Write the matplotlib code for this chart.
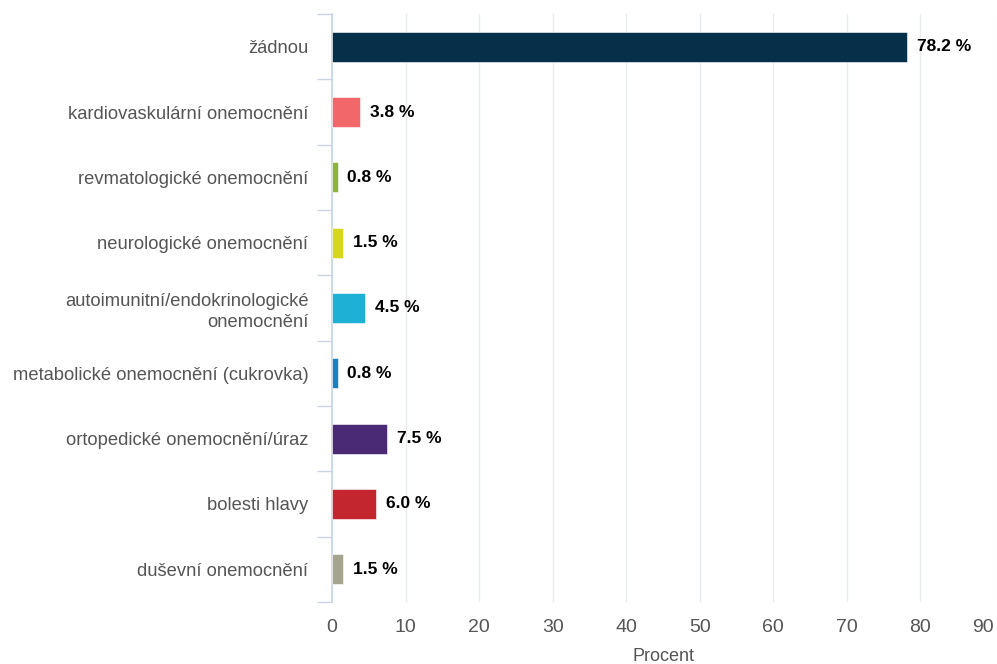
import numpy as np
import matplotlib.pyplot as plt

# Data
categories = [
    "žádnou",
    "kardiovaskulární onemocnění",
    "revmatologické onemocnění",
    "neurologické onemocnění",
    "autoimunitní/endokrinologické\nonemocnění",
    "metabolické onemocnění (cukrovka)",
    "ortopedické onemocnění/úraz",
    "bolesti hlavy",
    "duševní onemocnění",
]
values = [78.2, 3.8, 0.8, 1.5, 4.5, 0.8, 7.5, 6.0, 1.5]
colors = ["#06304a", "#f2686a", "#8cb33c", "#d6d61c", "#1fb1d5",
          "#1b7fc0", "#4a2a74", "#c4262f", "#a4a48f"]
xticks = [0, 10, 20, 30, 40, 50, 60, 70, 80, 90]

plt.rcParams['font.family'] = ['Liberation Sans', 'DejaVu Sans']

fig = plt.figure(figsize=(9.97, 6.64), dpi=100)
ax = fig.add_axes([0.333, 0.0934, 0.664, 0.8855])

y = np.arange(len(categories))
ax.barh(y, values, height=0.46, color=colors, edgecolor='white', linewidth=0.4, zorder=3)

for yi, v in zip(y, values):
    ax.text(v + 1.3, yi, f"{v:.1f} %", va='center', ha='left',
            fontsize=12.5, fontweight='bold', color='black', zorder=4)

ax.set_xlim(0, 90)
ax.set_ylim(len(categories) - 0.5, -0.5)
ax.set_xticks(xticks)
ax.set_yticks(y)
ax.set_yticklabels(categories, fontsize=13.2, color='#555555', linespacing=1.3)
ax.tick_params(axis='x', length=0, labelsize=14, colors='#555555', pad=12)
ax.tick_params(axis='y', which='major', length=0, pad=17)

# keep the last x label inside the figure
ax.get_xticklabels()[-1].set_horizontalalignment('right')

# boundary ticks between categories on the left axis
ax.set_yticks(np.arange(-0.5, len(categories)), minor=True)
ax.tick_params(axis='y', which='minor', length=11, width=1, color='#c9d5e4')

ax.grid(axis='x', color='#e6ebf1', linewidth=1, zorder=0)
for s in ['top', 'right', 'bottom']:
    ax.spines[s].set_visible(False)
ax.spines['left'].set_color('#c9d5e4')
ax.spines['left'].set_linewidth(1.2)

ax.set_xlabel("Procent", fontsize=13, color='#555555', labelpad=9)

fig.savefig("out.png", dpi=100)
